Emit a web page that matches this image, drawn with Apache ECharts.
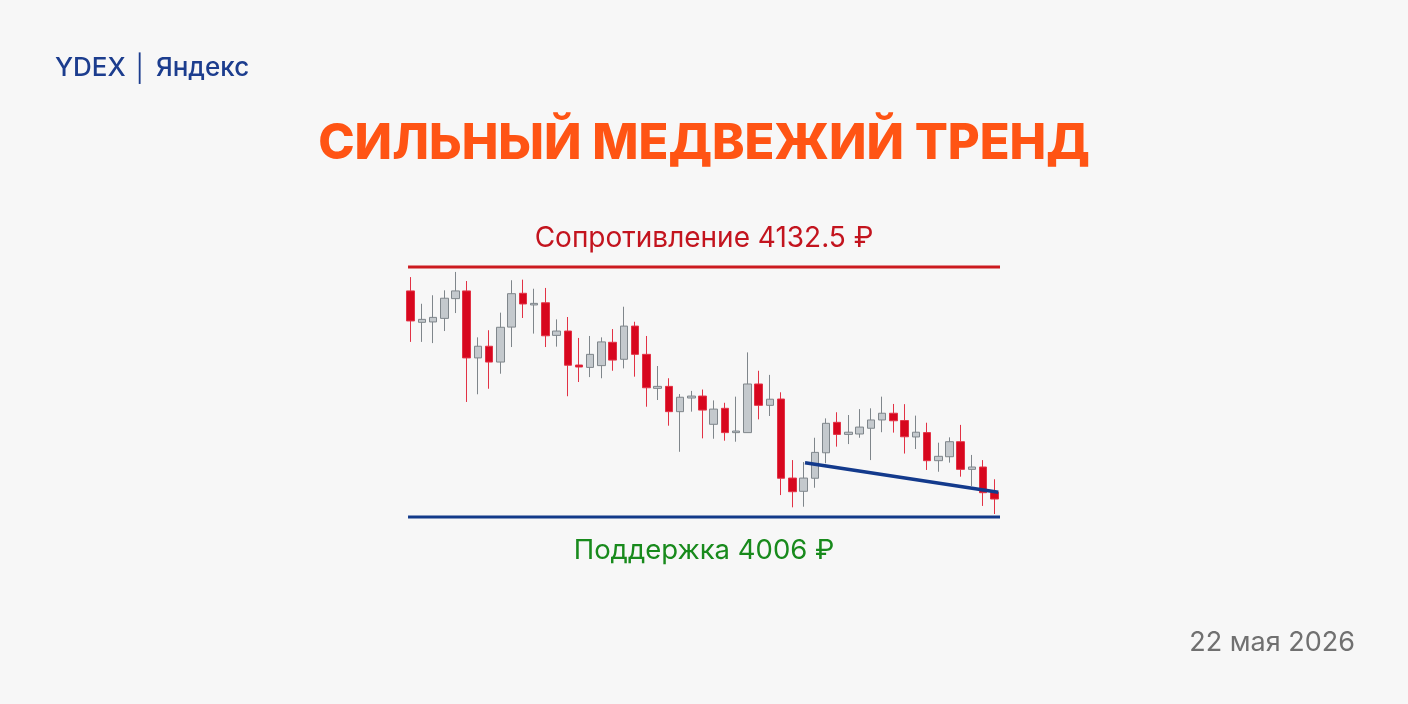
<!DOCTYPE html>
<html>
<head>
<meta charset="utf-8">
<script src="https://cdn.jsdelivr.net/npm/echarts@6/dist/echarts.min.js"></script>
<style>
html,body{margin:0;padding:0;background:#f7f7f7;}
#chart{width:1408px;height:704px;}
</style>
</head>
<body>
<div id="chart"></div>
<script>
// ---- data ----
const categories = Array.from({length: 53}, (_, i) => String(i + 1));
const opens  = [4120.4,4104.5,4104.7,4106.5,4116.5,4120.4,4086.5,4092.4,4084.4,4102.1,4119.2,4113.3,4114.4,4097.9,4100.1,4082.9,4081.7,4082.6,4094.4,4085.8,4102.6,4088.3,4071.1,4072.1,4059.3,4066.2,4067.2,4052.9,4061.0,4048.7,4048.7,4073.3,4062.5,4065.7,4025.7,4019.0,4025.6,4038.5,4053.9,4047.8,4048.0,4050.9,4055.1,4058.5,4054.8,4046.5,4048.7,4034.5,4036.5,4044.1,4030.1,4031.3,4018.5];
const closes = [4105.2,4106.0,4107.0,4116.7,4120.4,4086.5,4092.4,4084.4,4102.0,4119.0,4113.8,4114.1,4097.7,4100.1,4082.8,4081.9,4088.3,4094.6,4085.4,4102.6,4088.3,4071.4,4072.1,4059.3,4066.6,4067.2,4060.1,4060.6,4048.7,4049.5,4073.3,4062.5,4065.6,4025.6,4018.8,4025.7,4038.7,4053.4,4047.8,4048.9,4051.5,4055.1,4058.5,4054.7,4046.6,4048.9,4034.5,4036.7,4044.1,4030.1,4031.3,4018.3,4015.1];
const lows   = [4094.6,4094.6,4094.0,4100.1,4109.2,4064.2,4068.1,4070.9,4078.5,4092.0,4106.7,4098.8,4092.0,4092.2,4067.1,4074.3,4076.8,4076.2,4080.0,4081.2,4077.0,4061.8,4065.2,4052.2,4039.0,4059.3,4045.8,4045.6,4044.6,4044.1,4048.7,4055.4,4057.1,4017.1,4010.9,4011.2,4020.8,4033.2,4041.6,4042.9,4046.1,4034.8,4048.9,4048.7,4038.1,4040.4,4029.8,4028.9,4033.5,4026.4,4021.7,4011.6,4007.5];
const highs  = [4127.4,4113.9,4118.2,4120.7,4130.0,4125.4,4096.9,4100.5,4109.4,4125.8,4126.1,4121.5,4121.9,4106.0,4107.2,4096.6,4097.6,4096.9,4101.1,4112.4,4104.8,4097.6,4082.4,4076.2,4068.2,4069.8,4070.5,4065.0,4063.8,4066.9,4089.3,4080.0,4077.9,4069.1,4034.8,4033.8,4046.1,4055.9,4059.0,4057.6,4060.6,4061.0,4066.9,4063.2,4063.1,4057.3,4053.7,4043.6,4046.3,4052.6,4037.4,4034.8,4025.1];
const resistance = 4132.5;
const support = 4006;
const trendX = [35.13, 52.35];
const trendY = [4033.5, 4018.5];
const logoText = 'YDEX │ Яндекс';
const titleText = 'СИЛЬНЫЙ МЕДВЕЖИЙ ТРЕНД';
const resistanceLabel = 'Сопротивление 4132.5 ₽';
const supportLabel = 'Поддержка 4006 ₽';
const dateText = '22 мая 2026';

const candleData = opens.map((o, i) => [o, closes[i], lows[i], highs[i]]);
const FONT = 'Inter, "Noto Sans", sans-serif';

const chart = echarts.init(document.getElementById('chart'), null, {renderer: 'canvas'});
chart.setOption({
  backgroundColor: '#f7f7f7',
  animation: false,
  title: [
    {text: logoText, left: 50, top: 50, textStyle: {fontFamily: FONT, fontSize: 26, fontWeight: 500, color: '#1c3d8e'}},
    {text: titleText, left: 'center', top: 115, textStyle: {fontFamily: FONT, fontSize: 49, fontWeight: 800, color: '#ff5414'}},
    {text: resistanceLabel, left: 'center', top: 220, textStyle: {fontFamily: FONT, fontSize: 28, fontWeight: 400, color: '#c3141e'}},
    {text: supportLabel, left: 'center', top: 532, textStyle: {fontFamily: FONT, fontSize: 27.5, fontWeight: 400, color: '#188a1c'}},
    {text: dateText, right: 48, top: 624, textStyle: {fontFamily: FONT, fontSize: 27, fontWeight: 400, color: '#707070'}}
  ],
  grid: {left: 405, right: 408, top: 267, bottom: 187},
  xAxis: [
    {type: 'category', data: categories, show: false, boundaryGap: true},
    {type: 'value', min: -0.5, max: 52.5, show: false}
  ],
  yAxis: {type: 'value', min: support, max: resistance, show: false, scale: true},
  series: [
    {
      type: 'candlestick',
      data: candleData,
      barWidth: 8,
      itemStyle: {
        color: '#c4c9cd', borderColor: '#7f868b',
        color0: '#d7071e', borderColor0: '#e23245',
        borderWidth: 1
      },
      z: 2
    },
    {
      type: 'line', xAxisIndex: 1, symbol: 'none', clip: false,
      data: [[-0.23, resistance], [52.5, resistance]],
      lineStyle: {color: '#cc1a1f', width: 3}, z: 1
    },
    {
      type: 'line', xAxisIndex: 1, symbol: 'none', clip: false,
      data: [[-0.23, support], [52.5, support]],
      lineStyle: {color: '#123a8a', width: 3}, z: 1
    },
    {
      type: 'line', xAxisIndex: 1, symbol: 'none', clip: false,
      data: trendX.map((x, i) => [x, trendY[i]]),
      lineStyle: {color: '#133a8c', width: 3.5}, z: 5
    }
  ]
});
</script>
</body>
</html>
